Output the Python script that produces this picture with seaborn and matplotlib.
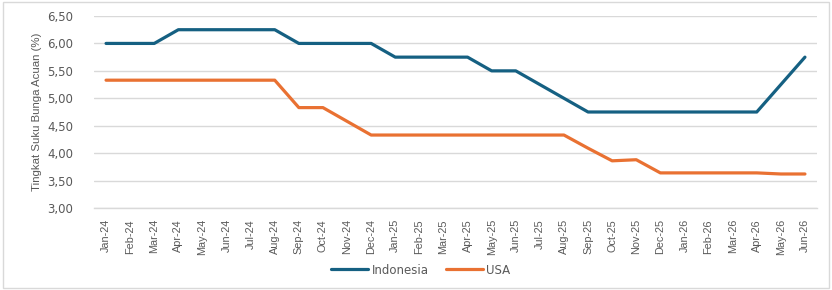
import matplotlib
matplotlib.use("Agg")
import matplotlib.pyplot as plt
import seaborn as sns
import pandas as pd
from matplotlib.patches import Rectangle
from matplotlib.ticker import FixedLocator, FuncFormatter

months = ["Jan-24", "Feb-24", "Mar-24", "Apr-24", "May-24", "Jun-24", "Jul-24", "Aug-24",
          "Sep-24", "Oct-24", "Nov-24", "Dec-24", "Jan-25", "Feb-25", "Mar-25", "Apr-25",
          "May-25", "Jun-25", "Jul-25", "Aug-25", "Sep-25", "Oct-25", "Nov-25", "Dec-25",
          "Jan-26", "Feb-26", "Mar-26", "Apr-26", "May-26", "Jun-26"]
indonesia = [6.00, 6.00, 6.00, 6.25, 6.25, 6.25, 6.25, 6.25,
             6.00, 6.00, 6.00, 6.00, 5.75, 5.75, 5.75, 5.75,
             5.50, 5.50, 5.25, 5.00, 4.75, 4.75, 4.75, 4.75,
             4.75, 4.75, 4.75, 4.75, 5.25, 5.75]
usa = [5.33, 5.33, 5.33, 5.33, 5.33, 5.33, 5.33, 5.33,
       4.83, 4.83, 4.58, 4.33, 4.33, 4.33, 4.33, 4.33,
       4.33, 4.33, 4.33, 4.33, 4.09, 3.86, 3.88, 3.64,
       3.64, 3.64, 3.64, 3.64, 3.62, 3.62]
series_names = ["Indonesia", "USA"]
colors = ["#156082", "#E97132"]
y_ticks = [3.00, 3.50, 4.00, 4.50, 5.00, 5.50, 6.00, 6.50]
y_label = "Tingkat Suku Bunga Acuan (%)"

sns.set_theme(style="white")
plt.rcParams['font.family'] = ['DejaVu Sans']
lib = ['Liberation Sans', 'DejaVu Sans']

pos = list(range(len(months)))
df = pd.concat([
    pd.DataFrame({"x": pos, "value": indonesia, "series": series_names[0]}),
    pd.DataFrame({"x": pos, "value": usa, "series": series_names[1]}),
])

W, H = 832, 290
fig = plt.figure(figsize=(W / 100, H / 100), dpi=100)
ax = fig.add_axes([94 / W, 1 - 208 / H, (817 - 94) / W, (208 - 16) / H])

sns.lineplot(data=df, x="x", y="value", hue="series", palette=colors,
             hue_order=series_names, linewidth=2.3, ax=ax, legend=False, sort=False)

txt = "#595959"
ax.set_xlim(-0.5, len(months) - 0.5)
ax.set_ylim(3.0, 6.5)
ax.set_yticks(y_ticks)
ax.yaxis.set_major_formatter(FuncFormatter(lambda v, p: f"{v:.2f}".replace(".", ",")))
ax.set_xticks(pos)
ax.set_xticklabels(months, rotation=90, family=lib, fontsize=7.8, color=txt)
ax.xaxis.set_minor_locator(FixedLocator([i - 0.5 for i in range(len(months) + 1)]))
ax.tick_params(axis="x", which="major", length=0, pad=8)
ax.tick_params(axis="x", which="minor", length=4, width=0.8, color="#d9d9d9", direction="out")
ax.tick_params(axis="y", length=0, pad=15, labelsize=8.5, labelcolor=txt)
ax.grid(axis="y", color="#d9d9d9", linewidth=1)
ax.set_axisbelow(True)
for s in ["left", "right", "top"]:
    ax.spines[s].set_visible(False)
ax.spines["bottom"].set_color("#d9d9d9")
ax.spines["bottom"].set_linewidth(1)
ax.set_xlabel("")
ax.set_ylabel(y_label, fontsize=8.2, color=txt, family=lib)
ax.yaxis.set_label_coords(-52 / (817 - 94), 0.5)

handles = [plt.Line2D([], [], color=c, linewidth=2.3) for c in colors]
fig.legend(handles, series_names, loc="center", bbox_to_anchor=(421 / W, 1 - 270 / H),
           ncol=2, frameon=False, fontsize=8.5, labelcolor=txt, handlelength=3.1,
           handletextpad=0.3, columnspacing=1.5)

fig.patches.append(Rectangle((3 / W, 2 / H), (829 - 3) / W, (288 - 2) / H,
                             transform=fig.transFigure, fill=False,
                             edgecolor="#d9d9d9", linewidth=1))

fig.savefig("out.png", dpi=100)
